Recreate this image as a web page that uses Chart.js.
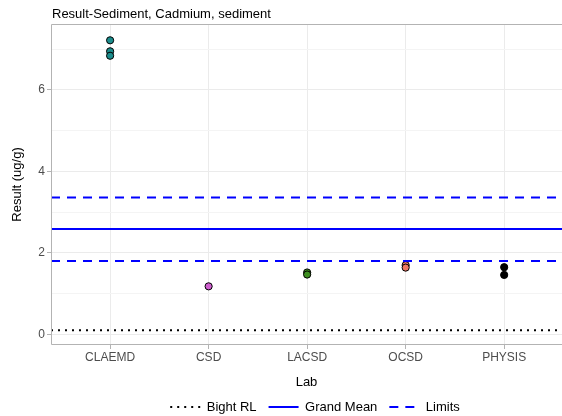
<!DOCTYPE html>
<html>
<head>
<meta charset="utf-8">
<script src="https://cdn.jsdelivr.net/npm/chart.js@4.4.1/dist/chart.umd.min.js"></script>
<style>
  html, body { margin: 0; padding: 0; background: #fff; }
</style>
</head>
<body>
<canvas id="chart" width="562" height="416"></canvas>
<script>
// categories and values
const labs = ['CLAEMD', 'CSD', 'LACSD', 'OCSD', 'PHYSIS'];
const labColors = ['#1b8c8c', '#cf5fcf', '#3d8f1f', '#ee7763', '#000000'];
const claemdResults = [7.22, 6.95, 6.84];
const csdResults = [1.18];
const lacsdResults = [1.52, 1.47];
const ocsdResults = [1.70, 1.64];
const physisResults = [1.65, 1.46];
const labResults = [claemdResults, csdResults, lacsdResults, ocsdResults, physisResults];

const bightRL = 0.1;
const grandMean = 2.59;
const lowerLimit = 1.80;
const upperLimit = 3.36;

const yTicks = [0, 1, 2, 3, 4, 5, 6, 7];

// panel runs past the right edge of the picture, as in the original
const xMin = -0.6, xMax = 4.587;
const yMin = -0.26, yMax = 7.62;
const fontFamily = "'Liberation Sans', Arial, sans-serif";

// Punkte je Labor
const pointSets = labs.map((lab, i) => ({
    type: 'scatter',
    label: lab,
    data: labResults[i].map(v => ({ x: i, y: v })),
    backgroundColor: labColors[i],
    borderColor: '#000000',
    borderWidth: 1,
    pointRadius: 3.6,
    isPoint: true
}));

// horizontale Linien ueber die ganze Breite
function hline(label, value, dash, width) {
    return {
        type: 'line',
        label: label,
        data: [{ x: xMin, y: value }, { x: xMax, y: value }],
        borderColor: label === 'Bight RL' ? '#000000' : '#0000ff',
        backgroundColor: 'transparent',
        borderWidth: width,
        borderDash: dash,
        pointRadius: 0,
        fill: false
    };
}

const lineSets = [
    hline('Bight RL', bightRL, [2, 5], 2),
    hline('Grand Mean', grandMean, [], 2),
    hline('Limits', upperLimit, [9, 7], 2),
    Object.assign(hline('Limits', lowerLimit, [9, 7], 2), { hideInLegend: true })
];

// nur an den Labor-Positionen Gitterlinien
const isLabTick = c => c.tick && Number.isInteger(c.tick.value) && c.tick.value >= 0 && c.tick.value < labs.length;

// Rahmen (links, oben, unten), Titel, Legende unter dem Panel zentrieren
const decorPlugin = {
    id: 'panelDecor',
    afterLayout(chart) {
        const shift = 33;
        chart.legend.left += shift;
        chart.legend.right += shift;
    },
    afterDraw(chart) {
        const { ctx, chartArea } = chart;
        const l = Math.round(chartArea.left) + 0.5;
        const t = Math.round(chartArea.top) + 0.5;
        const b = Math.round(chartArea.bottom) - 0.5;
        ctx.save();
        ctx.strokeStyle = '#b3b3b3';
        ctx.lineWidth = 1;
        ctx.beginPath();
        ctx.moveTo(chartArea.right, t);
        ctx.lineTo(l, t);
        ctx.lineTo(l, b);
        ctx.lineTo(chartArea.right, b);
        ctx.stroke();
        ctx.fillStyle = '#000000';
        ctx.font = '13px ' + fontFamily;
        ctx.textBaseline = 'middle';
        ctx.fillText('Result-Sediment, Cadmium, sediment', chartArea.left + 1, 14);
        ctx.restore();
    }
};

new Chart(document.getElementById('chart'), {
    data: { datasets: [...lineSets, ...pointSets] },
    options: {
        responsive: false,
        animation: false,
        layout: { autoPadding: false, padding: { top: 24, left: 0, right: -2, bottom: -7.5 } },
        plugins: {
            tooltip: { enabled: false },
            legend: {
                position: 'bottom',
                labels: {
                    font: { family: fontFamily, size: 13 },
                    color: '#000000',
                    usePointStyle: true,
                    pointStyleWidth: 30,
                    padding: 12,
                    generateLabels: chart => chart.data.datasets
                        .map((ds, i) => ({
                            text: ds.label,
                            strokeStyle: ds.borderColor,
                            fillStyle: ds.borderColor,
                            lineWidth: ds.borderWidth,
                            lineDash: ds.borderDash,
                            pointStyle: 'line',
                            hidden: false,
                            datasetIndex: i
                        }))
                        .filter((item, i) => !chart.data.datasets[i].isPoint && !chart.data.datasets[i].hideInLegend)
                }
            }
        },
        scales: {
            x: {
                type: 'linear',
                min: xMin,
                max: xMax,
                afterBuildTicks: axis => { axis.ticks = labs.map((l, i) => ({ value: i })); },
                afterFit: axis => { axis.height = 43.5; },
                ticks: {
                    callback: v => labs[v],
                    color: '#4d4d4d',
                    font: { family: fontFamily, size: 12 },
                    padding: 1,
                    maxRotation: 0
                },
                grid: {
                    color: c => (isLabTick(c) ? '#ebebeb' : 'rgba(0,0,0,0)'),
                    tickColor: c => (isLabTick(c) ? '#b3b3b3' : 'rgba(0,0,0,0)'),
                    tickLength: 4
                },
                border: { display: false },
                title: {
                    display: true,
                    text: 'Lab',
                    color: '#000000',
                    font: { family: fontFamily, size: 13 },
                    padding: { top: 4, bottom: -1.3 }
                }
            },
            y: {
                type: 'linear',
                min: yMin,
                max: yMax,
                afterBuildTicks: axis => { axis.ticks = yTicks.map(v => ({ value: v })); },
                afterFit: axis => { axis.width = 51; },
                ticks: {
                    callback: v => (v % 2 === 0 ? v : ''),
                    color: '#4d4d4d',
                    font: { family: fontFamily, size: 12 },
                    padding: 2
                },
                grid: {
                    color: c => (c.tick && c.tick.value % 2 ? '#f4f4f4' : '#ebebeb'),
                    tickColor: c => (c.tick && c.tick.value % 2 ? 'rgba(0,0,0,0)' : '#b3b3b3'),
                    tickLength: 4
                },
                border: { display: false },
                title: {
                    display: true,
                    text: 'Result (ug/g)',
                    color: '#000000',
                    font: { family: fontFamily, size: 13 },
                    padding: { top: 10, bottom: 0 }
                }
            }
        }
    },
    plugins: [decorPlugin]
});
</script>
</body>
</html>
